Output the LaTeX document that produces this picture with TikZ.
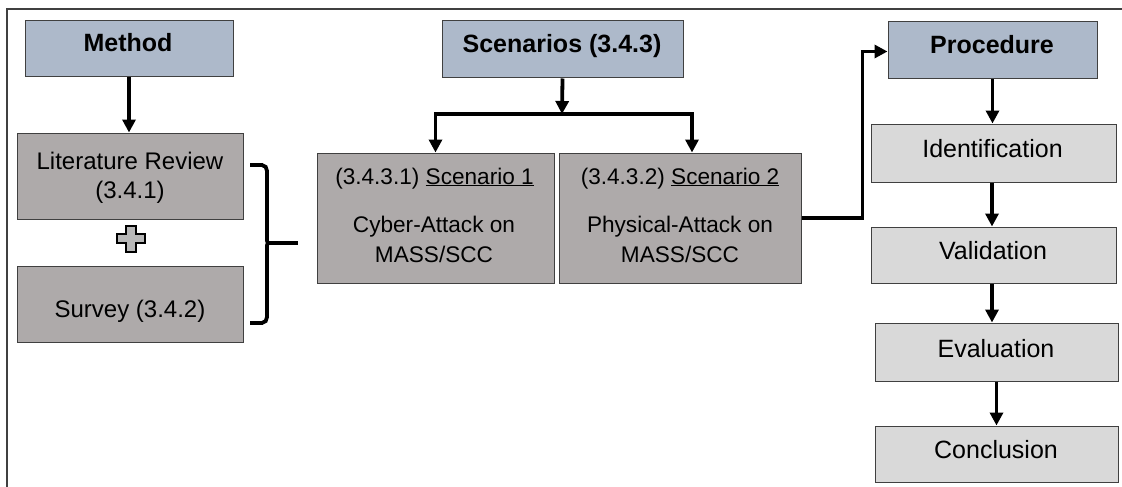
\documentclass[tikz,border=0pt]{standalone}
\usepackage{fontspec}
\setmainfont{Liberation Sans}
\usetikzlibrary{arrows.meta}
\definecolor{headfill}{HTML}{ADB9CA}
\definecolor{midgray}{HTML}{AEAAAA}
\definecolor{lightgray}{HTML}{D9D9D9}
\definecolor{edgegray}{HTML}{404040}
\tikzset{
  box/.style={draw=edgegray, line width=1pt, inner sep=0pt, anchor=center},
  headbox/.style={box, fill=headfill},
  grybox/.style={box, fill=midgray},
  lgtbox/.style={box, fill=lightgray},
  txt/.style={inner sep=0pt, anchor=base},
  arr/.style={line width=3.8pt, -{Triangle[width=13pt,length=13pt]}},
  thick line/.style={line width=3.8pt},
}
\newcommand{\fhead}{\fontsize{25}{30}\selectfont\bfseries}
\newcommand{\fbody}{\fontsize{24}{29}\selectfont}
\newcommand{\fscen}{\fontsize{22.6}{28}\selectfont}
\newcommand{\fstep}{\fontsize{25}{30}\selectfont}
\begin{document}
\begin{tikzpicture}[x=1pt,y=-1pt]
\useasboundingbox (0,0) rectangle (1122,487);
% outer frame (top and left edges)
\draw[edgegray, line width=1.3pt] (7,487) -- (7,9) -- (1122,9);

% left column
\node[headbox, minimum width=208pt, minimum height=56pt] (method) at (129,49) {};
\node[txt] (methodt) at (128,52) {\fhead Method};
\node[grybox, minimum width=226pt, minimum height=86pt] (lit) at (130,176) {};
\node[txt] (litt1) at (130,169) {\fbody Literature Review};
\node[txt] (litt2) at (130,198) {\fbody (3.4.1)};
\node[grybox, minimum width=226pt, minimum height=76pt] (survey) at (130,304) {};
\node[txt] (surveyt) at (130,317) {\fbody Survey (3.4.2)};

% plus sign between the two sources
\draw[fill=lightgray!85!black, draw=black, line width=1.5pt]
  (126,226) -- (136,226) -- (136,234) -- (145,234) -- (145,243) -- (136,243)
  -- (136,252) -- (126,252) -- (126,243) -- (117,243) -- (117,234) -- (126,234) -- cycle;

% brace joining both sources
\coordinate (braceTip) at (298,243);
\draw[thick line, line cap=butt]
  (250,165) -- (262,165) to[out=0,in=90] (267,171) -- (267,237)
  to[out=-90,in=180] (269,243) to[out=180,in=90] (267,249)
  -- (267,317) to[out=-90,in=0] (262,323) -- (250,323);
\draw[thick line] (269,243) -- (braceTip);

% scenarios
\node[headbox, minimum width=241pt, minimum height=57pt] (scen) at (562.5,49.5) {};
\node[txt] (scent) at (562,53) {\fhead Scenarios (3.4.3)};
\node[grybox, minimum width=237pt, minimum height=130pt] (sc1) at (435.5,218) {};
\node[grybox, minimum width=242pt, minimum height=130pt] (sc2) at (680,218) {};
\node[txt] (sc1a) at (434.5,184) {\fscen (3.4.3.1) \underline{Scenario 1}};
\node[txt] (sc1b) at (434,232) {\fscen Cyber-Attack on};
\node[txt] (sc1c) at (434,262) {\fscen MASS/SCC};
\node[txt] (sc2a) at (680,184) {\fscen (3.4.3.2) \underline{Scenario 2}};
\node[txt] (sc2b) at (680,232) {\fscen Physical-Attack on};
\node[txt] (sc2c) at (680,262) {\fscen MASS/SCC};

\coordinate (fork) at (562,114);
\draw[arr] (scen.south) -- (fork);
\draw[arr] (fork) -| (sc1.north);
\draw[arr] (fork) -| ([xshift=12pt]sc2.north);

% procedure column
\node[headbox, minimum width=209pt, minimum height=57pt] (proc) at (992.5,50.5) {};
\node[txt] (proct) at (992,54) {\fhead Procedure};
\node[lgtbox, minimum width=245pt, minimum height=58pt] (ident) at (993.5,153) {};
\node[txt] (identt) at (992.5,157) {\fstep Identification};
\node[lgtbox, minimum width=245pt, minimum height=56pt] (valid) at (993.5,255) {};
\node[txt] (validt) at (993,259) {\fstep Validation};
\node[lgtbox, minimum width=243pt, minimum height=58pt] (eval) at (996.5,352) {};
\node[txt] (evalt) at (996,357) {\fstep Evaluation};
\node[lgtbox, minimum width=243pt, minimum height=56pt] (concl) at (996.5,454) {};
\node[txt] (conclt) at (996,458) {\fstep Conclusion};

\draw[arr] (sc2.east) -- ++(61,0) |- ([yshift=-1pt]proc.west);

\draw[arr] (method.south) -- (method.south |- lit.north);
\draw[arr] (proc.south) -- (proc.south |- ident.north);
\draw[arr] ([xshift=-1.5pt]ident.south) -- ([xshift=-1.5pt]ident.south |- valid.north);
\draw[arr] ([xshift=-1.5pt]valid.south) -- ([xshift=-1.5pt]valid.south |- eval.north);
\draw[arr] (eval.south) -- (eval.south |- concl.north);
\end{tikzpicture}
\end{document}
